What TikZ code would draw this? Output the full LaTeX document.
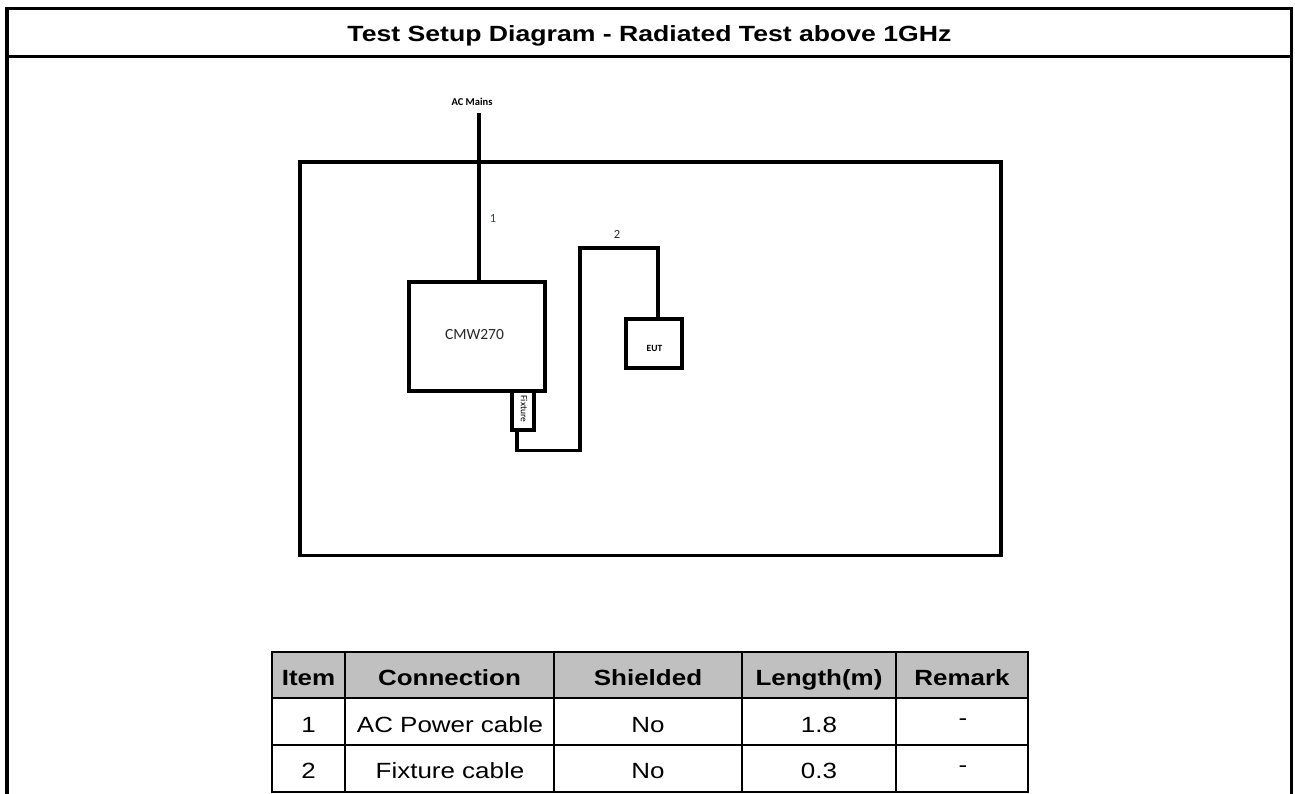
\documentclass[tikz,border=0pt]{standalone}
\usepackage{fontspec}
\setmainfont{Liberation Sans}
\newfontfamily\calfont{Carlito}
\definecolor{hdrgray}{RGB}{192,192,192}
\definecolor{lblblue}{RGB}{60,70,90}
\tikzset{
  frameline/.style={line width=3.5pt, line cap=rect},
  thick line/.style={line width=3.5pt},
  devbox/.style={draw, line width=3.5pt, inner sep=0pt},
  cable/.style={line width=3.5pt, line join=miter},
  tline/.style={line width=2.2pt},
  celltxt/.style={font=\fontsize{22}{24}\selectfont, xscale=1.18, anchor=base, inner sep=0pt},
  hdrtxt/.style={font=\bfseries\fontsize{22}{24}\selectfont, xscale=1.18, anchor=base, inner sep=0pt},
}
\begin{document}
\begin{tikzpicture}[x=1pt,y=-1pt]
\useasboundingbox (0,0) rectangle (1295,793);
% outer frame
\draw[frameline] (7,793) -- (7,8.7) -- (1291.5,8.7) -- (1291.5,793);
\draw[line width=2.7pt] (7,56.8) -- (1291.5,56.8);
\node[font=\bfseries\fontsize{22}{24}\selectfont, xscale=1.21, anchor=base, inner sep=0pt] (title) at (649.5,41.7) {Test Setup Diagram - Radiated Test above 1GHz};
% chamber
\draw[thick line] (300,162) rectangle (1001,555.5);
% devices
\node[devbox, minimum width=136pt, minimum height=109pt] (cmw) at (477,336.5) {};
\node[font=\calfont\fontsize{15.5}{17}\selectfont, text=black!85] (cmwlbl) at (474.5,335) {CMW270};
\node[devbox, minimum width=22pt, minimum height=39pt] (fix) at (523,410.5) {};
\node[font=\calfont\fontsize{9.5}{10}\selectfont, rotate=-90] (fixlbl) at (524,409) {Fixture};
\node[devbox, minimum width=56pt, minimum height=49pt] (eut) at (654,343.5) {};
\node[font=\calfont\bfseries\fontsize{9.5}{10}\selectfont] (eutlbl) at (654.5,348) {EUT};
% AC mains
\node[font=\calfont\bfseries\fontsize{10.5}{11}\selectfont] (acm) at (472,102) {AC Mains};
\coordinate (acend) at (479,113);
\draw[cable] (acend) -- (acend |- cmw.north);
\node[font=\calfont\fontsize{12.5}{13}\selectfont, text=lblblue] (l1) at (493,218) {1};
% fixture cable
\coordinate (c2a) at (517,450.5);
\coordinate (c2b) at (580,450.5);
\coordinate (c2c) at (580,248);
\coordinate (c2d) at (658,248);
\draw[cable] (fix.south -| c2a) -- (c2a) -- (c2b) -- (c2c) -- (c2d) -- (c2d |- eut.north);
\node[font=\calfont\fontsize{12.5}{13}\selectfont, text=black!85] (l2) at (617,234) {2};
% table
\fill[hdrgray] (272,652) rectangle (1028,698);
\draw[tline] (272,652) rectangle (1028,792);
\draw[tline] (272,698) -- (1028,698);
\draw[tline] (272,745) -- (1028,745);
\foreach \x in {345,554,742,896} \draw[tline] (\x,652) -- (\x,792);
\node[hdrtxt] (h1) at (308.5,685) {Item};
\node[hdrtxt] (h2) at (449.5,685) {Connection};
\node[hdrtxt] (h3) at (648,685) {Shielded};
\node[hdrtxt] (h4) at (819,685) {Length(m)};
\node[hdrtxt] (h5) at (962,685) {Remark};
\node[celltxt] (r11) at (308.5,732) {1};
\node[celltxt] (r12) at (450,732) {AC Power cable};
\node[celltxt] (r13) at (648,732) {No};
\node[celltxt] (r14) at (819,732) {1.8};
\node[celltxt] (r15) at (963,725.5) {-};
\node[celltxt] (r21) at (308.5,778) {2};
\node[celltxt] (r22) at (450,778) {Fixture cable};
\node[celltxt] (r23) at (648,778) {No};
\node[celltxt] (r24) at (819,778) {0.3};
\node[celltxt] (r25) at (963,772.5) {-};
\end{tikzpicture}
\end{document}
